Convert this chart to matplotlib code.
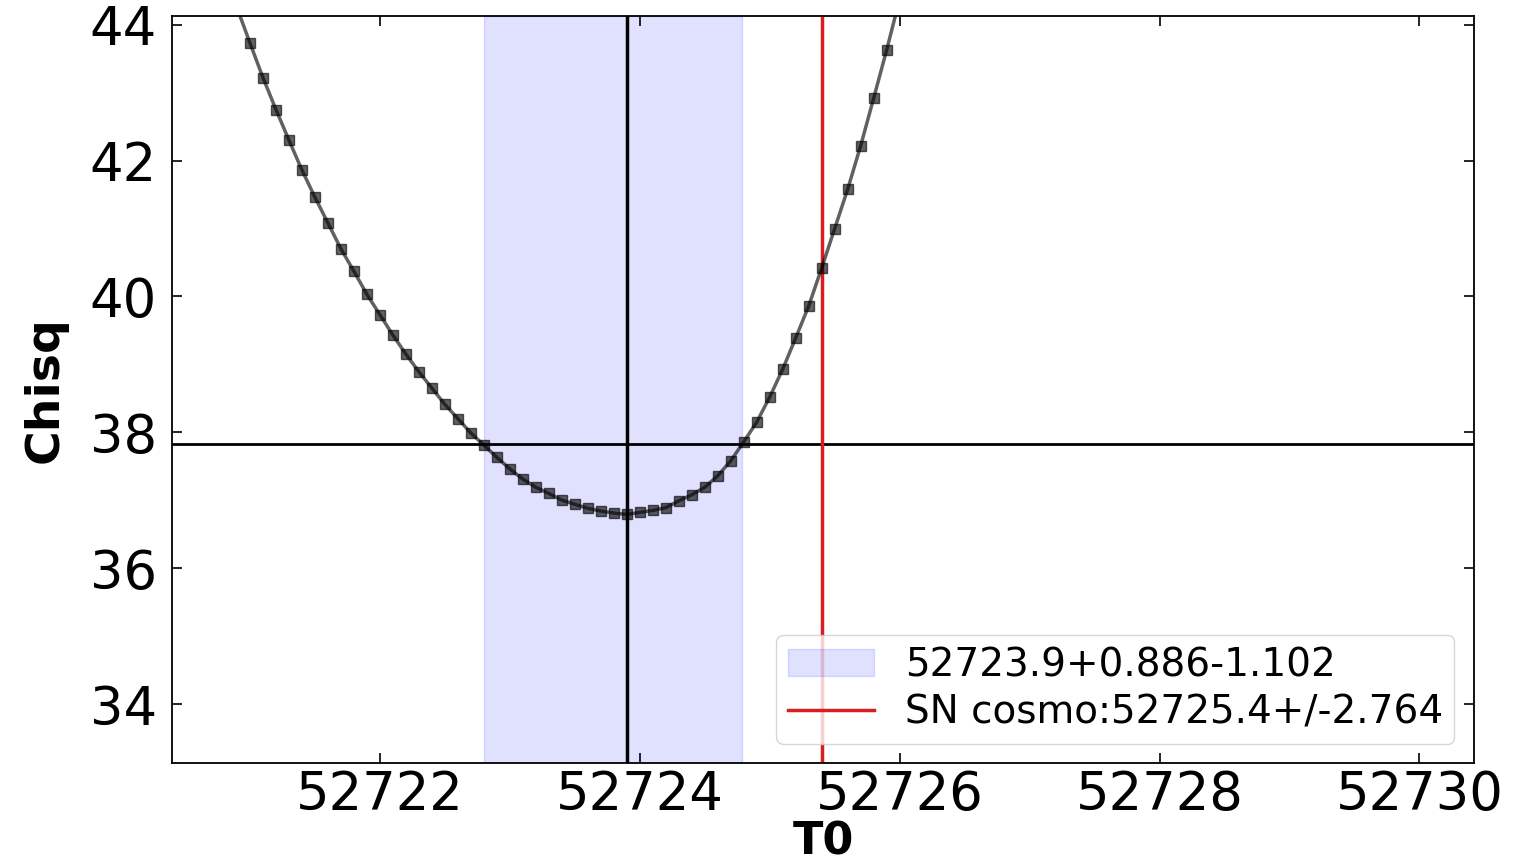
import matplotlib
matplotlib.use("Agg")
import matplotlib.pyplot as plt
import numpy as np


# Chi-kvadrat skann over T0
t0 = np.array([
    52720.9, 52721.0, 52721.1, 52721.2, 52721.3, 52721.4, 52721.5, 52721.6,
    52721.7, 52721.8, 52721.9, 52722.0, 52722.1, 52722.2, 52722.3, 52722.4,
    52722.5, 52722.6, 52722.7, 52722.8, 52722.9, 52723.0, 52723.1, 52723.2,
    52723.3, 52723.4, 52723.5, 52723.6, 52723.7, 52723.8, 52723.9, 52724.0,
    52724.1, 52724.2, 52724.3, 52724.4, 52724.5, 52724.6, 52724.7, 52724.8,
    52724.9, 52725.0, 52725.1, 52725.2, 52725.3, 52725.4, 52725.5, 52725.6,
    52725.7, 52725.8, 52725.9, 52726.0,
])
chisq = np.array([
    44.25, 43.73, 43.22, 42.75, 42.30, 41.86, 41.46, 41.08,
    40.70, 40.37, 40.03, 39.73, 39.43, 39.15, 38.89, 38.65,
    38.41, 38.20, 37.99, 37.81, 37.63, 37.46, 37.31, 37.19,
    37.10, 37.00, 36.94, 36.88, 36.84, 36.81, 36.79, 36.82,
    36.85, 36.89, 36.99, 37.08, 37.19, 37.36, 37.58, 37.86,
    38.15, 38.52, 38.93, 39.39, 39.86, 40.42, 41.00, 41.58,
    42.22, 42.92, 43.63, 44.38,
])

best = 52723.9
err_hi = 0.886
err_lo = 1.102
sn_cosmo = 52725.4
sn_err = 2.764
chi_min = 36.825


def main():
    fig = plt.figure(figsize=(15.2, 8.65), dpi=100)
    ax = fig.add_axes([0.1132, 0.1179, 0.8565, 0.8636])

    ax.plot(t0, chisq, "-s", color="k", alpha=0.62, lw=2.5, ms=7, zorder=3)
    ax.axvspan(best - err_lo, best + err_hi, color="b", alpha=0.12,
               label="%.1f+%.3f-%.3f" % (best, err_hi, err_lo))
    ax.axvline(best, color="k", lw=2.5)
    ax.axhline(chi_min + 1, color="k", lw=2.0)
    ax.axvline(sn_cosmo, color="#d81e1e", lw=2.5,
               label="SN cosmo:%.1f+/-%.3f" % (sn_cosmo, sn_err))

    ax.set_xlim(52720.4, 52730.42)
    ax.set_ylim(33.13, 44.13)
    ax.set_xticks([52722, 52724, 52726, 52728, 52730])
    ax.set_yticks([34, 36, 38, 40, 42, 44])
    ax.get_xaxis().get_major_formatter().set_useOffset(False)

    ax.tick_params(direction="in", top=True, right=True, length=7, width=1.2,
                   labelsize=38)
    ax.tick_params(axis="y", pad=11)
    ax.tick_params(axis="x", pad=4)
    for s in ax.spines.values():
        s.set_linewidth(1.3)

    ax.set_xlabel("T0", fontsize=32, fontweight="bold", labelpad=0)
    ax.set_ylabel("Chisq", fontsize=34, fontweight="bold", labelpad=16)

    ax.legend(loc="lower right", fontsize=28, handlelength=2.2,
              labelspacing=0.25, borderpad=0.3, handletextpad=0.8)

    fig.savefig("out.png", dpi=100)


if __name__ == "__main__":
    main()
